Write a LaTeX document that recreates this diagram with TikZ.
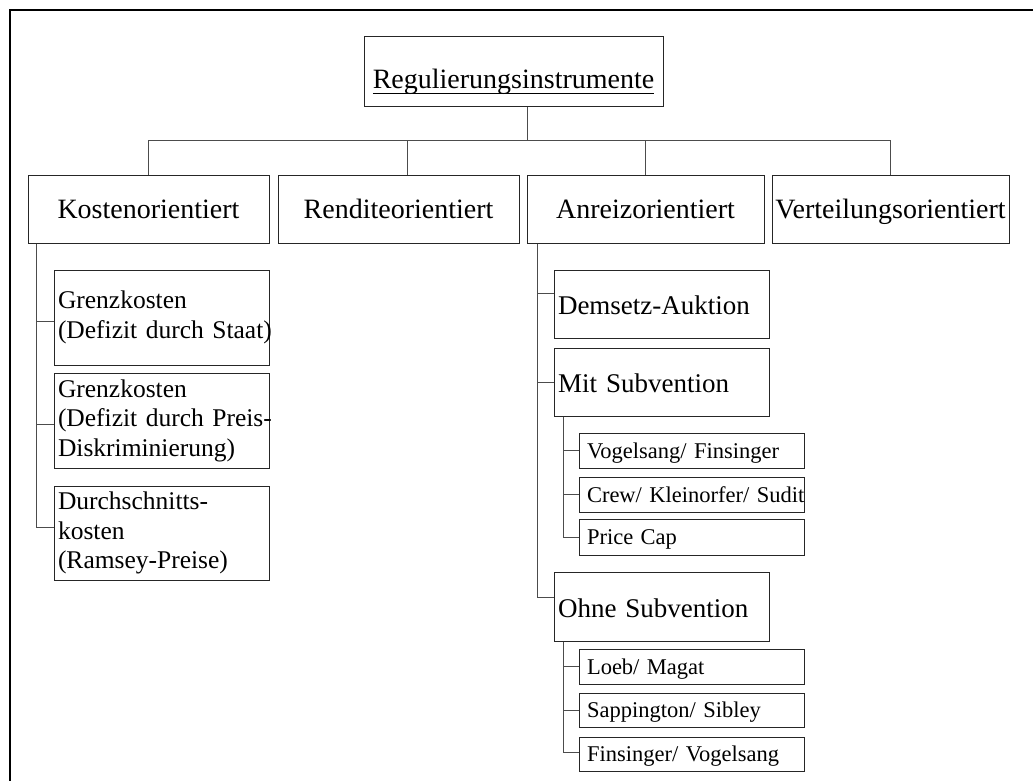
\documentclass[tikz,border=0pt]{standalone}
\usepackage{fontspec}
\setmainfont{Liberation Serif}
% underline that sits just below the baseline, crossing descenders
\newcommand\ulword[1]{\setbox0\hbox{#1}\rlap{\rule[-0.19em]{\wd0}{0.05em}}\box0}
% \placebox{name}{x1}{y1}{x2}{y2}{style}{text}
\newcommand\placebox[7]{%
  \pgfmathsetmacro\bxw{#4-#2}%
  \pgfmathsetmacro\bxh{#5-#3}%
  \pgfmathsetmacro\bxt{#4-#2-8}%
  \pgfmathsetmacro\bxs{#4-#2-16}%
  \node[#6, minimum width=\bxw pt, minimum height=\bxh pt] (#1)
    at ({(#2+#4)/2},{(#3+#5)/2}) {#7};}
\begin{document}
\begin{tikzpicture}[x=1pt,y=-1pt,
  box/.style={draw=black!85, line width=1pt, inner sep=0pt},
  topbox/.style={box, font=\fontsize{28}{30}\selectfont, text height=34pt, text depth=0pt},
  catbox/.style={box, font=\fontsize{28}{30}\selectfont, text height=19pt, text depth=0pt},
  notebox/.style={box, inner xsep=4pt, text width=\bxt pt, align=left,
    font=\fontsize{25.5}{29.5}\selectfont},
  kindbox/.style={box, inner xsep=4pt, text width=\bxt pt, align=left,
    font=\fontsize{27}{29}\selectfont, text height=21pt, text depth=0pt},
  namebox/.style={box, inner xsep=8pt, text width=\bxs pt, align=left,
    font=\fontsize{22.5}{24}\selectfont, text height=15pt, text depth=0pt},
  conn/.style={draw=black!70, line width=1pt},
  frame/.style={draw=black, line width=2pt}]
\useasboundingbox (0,0) rectangle (1033,781);

% page frame (open to the right and bottom)
\draw[frame] (10,781) -- (10,10) -- (1033,10);

% root and first level
\placebox{root}{364}{37}{663}{107}{topbox}{\ulword{Regulierungsinstrumente}}
\placebox{kosten}{28}{175}{269}{243}{catbox}{Kostenorientiert}
\placebox{rendite}{278}{175}{519}{243}{catbox}{Renditeorientiert}
\placebox{anreiz}{527}{175}{764}{243}{catbox}{Anreizorientiert}
\placebox{vert}{772}{175}{1009}{243}{catbox}{Verteilungsorientiert}

% cost based branch
\placebox{k1}{54}{270}{269}{365}{notebox}{Grenzkosten\\\mbox{(Defizit durch Staat)}}
\placebox{k2}{54}{373}{269}{468}{notebox}{Grenzkosten\\\mbox{(Defizit durch Preis-}\\Diskriminierung)}
\placebox{k3}{54}{486}{269}{580}{notebox}{Durchschnitts-\\kosten\\(Ramsey-Preise)}

% incentive based branch
\placebox{dem}{554}{270}{769}{338}{kindbox}{Demsetz-Auktion}
\placebox{mit}{554}{348}{769}{416}{kindbox}{Mit Subvention}
\placebox{ohne}{554}{572}{769}{641}{kindbox}{Ohne Subvention}

\placebox{v1}{579}{433}{804}{468}{namebox}{\mbox{Vogelsang/ Finsinger}}
\placebox{v2}{579}{477}{804}{512}{namebox}{\mbox{Crew/ Kleinorfer/ Sudit}}
\placebox{v3}{579}{519}{804}{555}{namebox}{\mbox{Price Cap}}

\placebox{o1}{579}{649}{804}{684}{namebox}{\mbox{Loeb/ Magat}}
\placebox{o2}{579}{693}{804}{727}{namebox}{\mbox{Sappington/ Sibley}}
\placebox{o3}{579}{737}{804}{771}{namebox}{\mbox{Finsinger/ Vogelsang}}

% tree connectors
\coordinate (bus) at (0,141);
\coordinate (kspine) at (36,0);
\coordinate (aspine) at (537,0);
\coordinate (mspine) at (563,0);

\draw[conn] ([xshift=13.5pt]root.south) -- ([xshift=13.5pt]root.south |- bus);
\draw[conn] (kosten.north) -- (kosten.north |- bus) -- (vert.north |- bus) -- (vert.north);
\draw[conn] ([xshift=8.5pt]rendite.north) -- ([xshift=8.5pt]rendite.north |- bus);
\draw[conn] (anreiz.north) -- (anreiz.north |- bus);

\draw[conn] (kspine |- kosten.south) |- ([yshift=-3.5pt]k1.west);
\draw[conn] (kspine |- kosten.south) |- ([yshift=-3.5pt]k2.west);
\draw[conn] (kspine |- kosten.south) |- ([yshift=6pt]k3.west);

\draw[conn] (aspine |- anreiz.south) |- ([yshift=11pt]dem.west);
\draw[conn] (aspine |- anreiz.south) |- (mit.west);
\draw[conn] (aspine |- anreiz.south) |- ([yshift=9.5pt]ohne.west);

\draw[conn] (mspine |- mit.south) |- (v1.west);
\draw[conn] (mspine |- mit.south) |- (v2.west);
\draw[conn] (mspine |- mit.south) |- (v3.west);

\draw[conn] (mspine |- ohne.south) |- (o1.west);
\draw[conn] (mspine |- ohne.south) |- (o2.west);
\draw[conn] (mspine |- ohne.south) |- ([yshift=2pt]o3.west);
\end{tikzpicture}
\end{document}
